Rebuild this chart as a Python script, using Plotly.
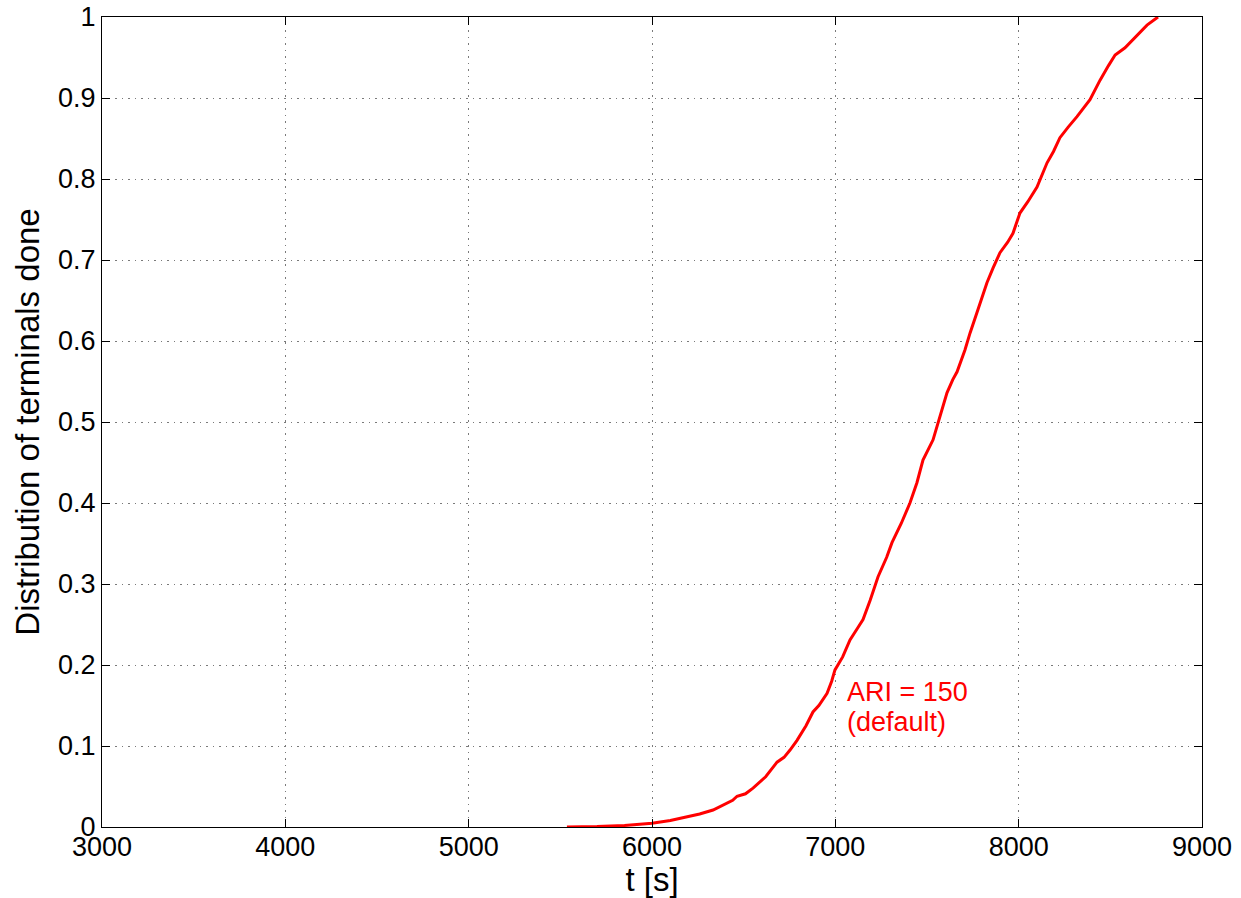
import plotly.graph_objects as go

# Data (time in s, fraction of terminals done)
t_values = [5536, 5700, 5850, 5918, 6000, 6100, 6191, 6260, 6333, 6400, 6440, 6464, 6510,
            6551, 6620, 6682, 6720, 6753, 6791, 6840, 6878, 6910, 6933, 6955, 6980, 6998,
            7040, 7080, 7120, 7151, 7190, 7233, 7280, 7309, 7360, 7407, 7445, 7478, 7533,
            7570, 7609, 7640, 7664, 7707, 7735, 7780, 7827, 7860, 7898, 7940, 7969, 8007,
            8050, 8100, 8155, 8190, 8225, 8270, 8318, 8389, 8444, 8490, 8526, 8580, 8624,
            8660, 8700, 8760]
frac_values = [0.0, 0.0005, 0.002, 0.003, 0.0046, 0.008, 0.0125, 0.016, 0.021, 0.028, 0.033,
               0.038, 0.041, 0.048, 0.062, 0.080, 0.086, 0.095, 0.107, 0.125, 0.142, 0.150,
               0.157, 0.165, 0.180, 0.194, 0.210, 0.231, 0.245, 0.256, 0.28, 0.309, 0.333,
               0.351, 0.375, 0.400, 0.425, 0.453, 0.478, 0.505, 0.536, 0.552, 0.562, 0.589,
               0.610, 0.64, 0.672, 0.690, 0.709, 0.722, 0.733, 0.758, 0.772, 0.790, 0.820,
               0.834, 0.851, 0.864, 0.877, 0.898, 0.922, 0.940, 0.953, 0.962, 0.972, 0.980,
               0.990, 1.0]

x_ticks = [3000, 4000, 5000, 6000, 7000, 8000, 9000]
y_ticks = [0, 0.1, 0.2, 0.3, 0.4, 0.5, 0.6, 0.7, 0.8, 0.9, 1]
y_tick_labels = ["0", "0.1", "0.2", "0.3", "0.4", "0.5", "0.6", "0.7", "0.8", "0.9", "1"]

label_line1 = "ARI = 150"
label_line2 = "(default)"

FONT = "Liberation Sans, Arial, Helvetica, sans-serif"

fig = go.Figure()
fig.add_trace(go.Scatter(x=t_values, y=frac_values, mode="lines",
                         line=dict(color="#ff0000", width=3), showlegend=False))

fig.add_annotation(x=7053, y=0.1667, xref="x", yref="y", text=label_line1,
                   showarrow=False, xanchor="left", yanchor="middle",
                   font=dict(family=FONT, size=27, color="#ff0000"))
fig.add_annotation(x=7053, y=0.1296, xref="x", yref="y", text=label_line2,
                   showarrow=False, xanchor="left", yanchor="middle",
                   font=dict(family=FONT, size=27, color="#ff0000"))

axis_common = dict(showline=True, linecolor="black", linewidth=1, mirror="ticks",
                   ticks="inside", ticklen=8, tickcolor="black", tickwidth=1,
                   showgrid=True, gridcolor="#7a7a7a", griddash="1.5px,5px", gridwidth=1,
                   zeroline=False, tickfont=dict(family=FONT, size=27, color="black"))

fig.update_xaxes(range=[3000, 9000], tickvals=x_ticks, ticktext=[str(v) for v in x_ticks],
                 ticklabelstandoff=-4,
                 title=dict(text="t [s]", font=dict(family=FONT, size=33, color="black"),
                            standoff=4),
                 **axis_common)
fig.update_yaxes(range=[0, 1], tickvals=y_ticks, ticktext=y_tick_labels,
                 title=dict(text="Distribution of terminals done",
                            font=dict(family=FONT, size=33, color="black"), standoff=8),
                 **axis_common)

fig.update_layout(width=1241, height=898, plot_bgcolor="white", paper_bgcolor="white",
                  margin=dict(l=102, r=39, t=17, b=71, autoexpand=False),
                  font=dict(family=FONT))

fig.write_html("out.html")
